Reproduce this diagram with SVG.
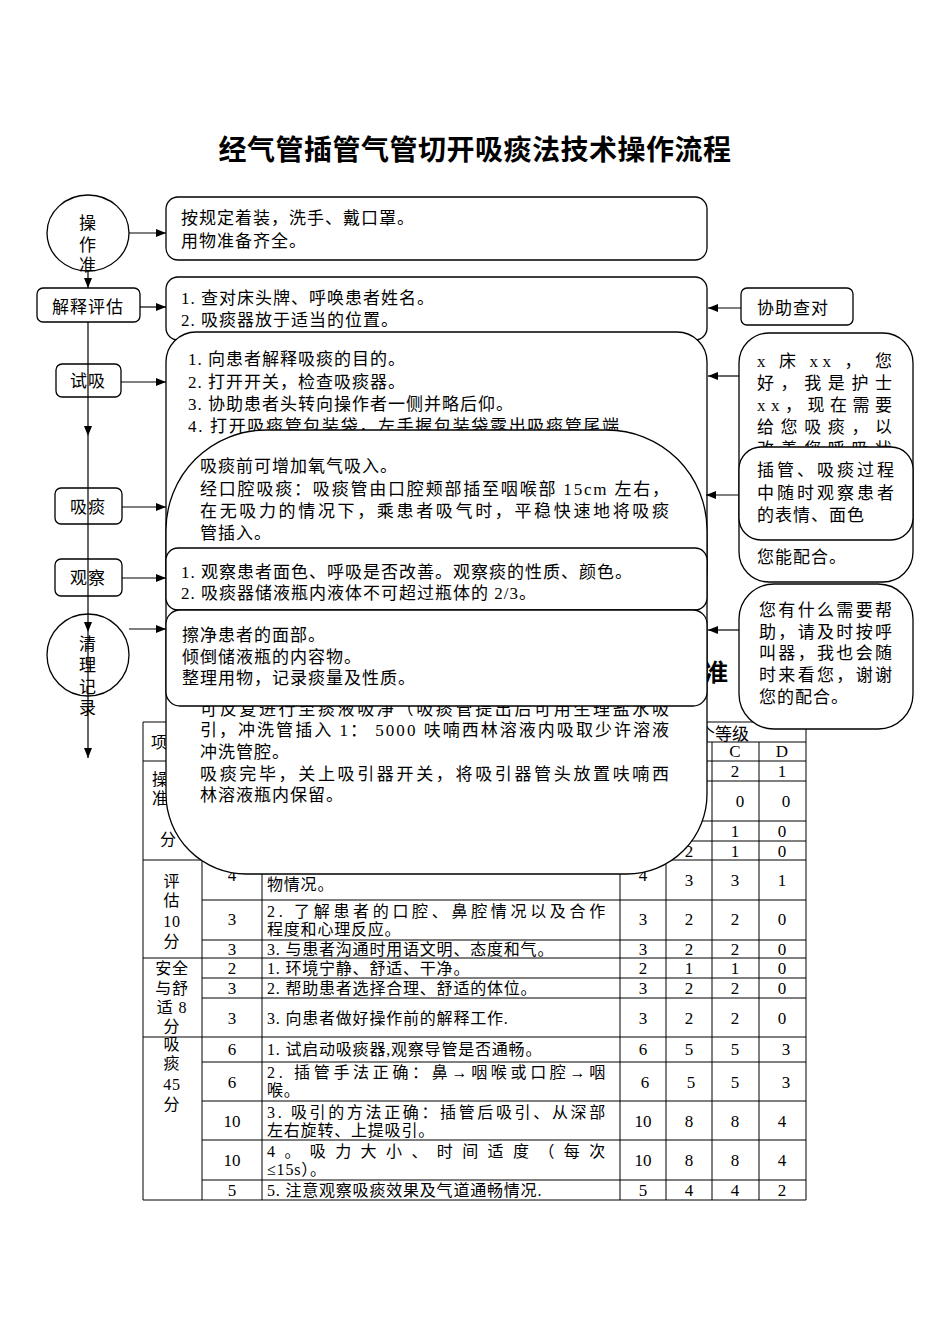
<svg xmlns="http://www.w3.org/2000/svg" width="950" height="1344" viewBox="0 0 950 1344">
<defs>
<style>
.t{font-family:"Liberation Serif","Noto Sans CJK SC",serif;font-size:17px;fill:#000;letter-spacing:1px}
.s{font-family:"Liberation Serif","Noto Sans CJK SC",serif;font-size:16px;fill:#000;letter-spacing:0.8px}
.n{font-family:"Liberation Serif","Noto Sans CJK SC",serif;font-size:17px;fill:#000;text-anchor:middle}
.c{text-anchor:middle}
.title{font-family:"Noto Sans CJK SC",sans-serif;font-size:28px;font-weight:bold;fill:#000;letter-spacing:0.5px;text-anchor:middle}
.box{fill:#fff;stroke:#000;stroke-width:1.3}
.ln{stroke:#000;stroke-width:1.2;fill:none}
.tl{stroke:#000;stroke-width:1;fill:none}
</style>
<marker id="ah" markerWidth="10" markerHeight="8" refX="10" refY="4" orient="auto" markerUnits="userSpaceOnUse">
<path d="M0,0 L10,4 L0,8 Z" fill="#000"/>
</marker>
</defs>
<rect width="950" height="1344" fill="#fff"/>
<text class="title" x="475" y="160">经气管插管气管切开吸痰法技术操作流程</text>

<g id="table">
<g class="tl">
<line x1="143" y1="722" x2="806" y2="722"/>
<line x1="620" y1="742" x2="806" y2="742"/>
<line x1="143" y1="761" x2="806" y2="761"/>
<line x1="202" y1="781" x2="806" y2="781"/>
<line x1="202" y1="821" x2="806" y2="821"/>
<line x1="202" y1="841" x2="806" y2="841"/>
<line x1="143" y1="860" x2="806" y2="860"/>
<line x1="202" y1="900" x2="806" y2="900"/>
<line x1="202" y1="940" x2="806" y2="940"/>
<line x1="143" y1="958" x2="806" y2="958"/>
<line x1="202" y1="978" x2="806" y2="978"/>
<line x1="202" y1="998" x2="806" y2="998"/>
<line x1="143" y1="1037" x2="806" y2="1037"/>
<line x1="202" y1="1062" x2="806" y2="1062"/>
<line x1="202" y1="1101" x2="806" y2="1101"/>
<line x1="202" y1="1140" x2="806" y2="1140"/>
<line x1="202" y1="1180" x2="806" y2="1180"/>
<line x1="143" y1="1200" x2="806" y2="1200"/>
<line x1="143" y1="722" x2="143" y2="1200"/>
<line x1="202" y1="722" x2="202" y2="1200"/>
<line x1="262" y1="722" x2="262" y2="1200"/>
<line x1="620" y1="722" x2="620" y2="1200"/>
<line x1="666" y1="742" x2="666" y2="1200"/>
<line x1="712" y1="742" x2="712" y2="1200"/>
<line x1="759" y1="742" x2="759" y2="1200"/>
<line x1="806" y1="722" x2="806" y2="1200"/>
</g>
<text class="s" x="151" y="748">项</text>
<text class="t" x="698" y="740" style="letter-spacing:0">个等级</text>
<text class="n" x="735" y="757">C</text><text class="n" x="782" y="757">D</text>
<text class="s" x="152" y="785">操</text>
<text class="s" x="152" y="804">准</text>
<text class="s" x="160" y="845">分</text>
<text class="n" x="735" y="777">2</text><text class="n" x="782" y="777">1</text>
<text class="n" x="740" y="807">0</text><text class="n" x="786" y="807">0</text>
<text class="n" x="735" y="837">1</text><text class="n" x="782" y="837">0</text>
<text class="n" x="689" y="857">2</text><text class="n" x="735" y="857">1</text><text class="n" x="782" y="857">0</text>

<text class="s c" x="172" y="887">评</text>
<text class="s c" x="172" y="906">估</text>
<text class="s c" x="172" y="927">10</text>
<text class="s c" x="172" y="947">分</text>
<text class="s c" x="172" y="974">安全</text>
<text class="s c" x="172" y="994">与舒</text>
<text class="s c" x="172" y="1013">适 8</text>
<text class="s c" x="172" y="1032">分</text>
<text class="s c" x="172" y="1050">吸</text>
<text class="s c" x="172" y="1069">痰</text>
<text class="s c" x="172" y="1090">45</text>
<text class="s c" x="172" y="1110">分</text>

<text class="s" x="267" y="890">物情况。</text>
<text class="s" x="267" y="917" textLength="339" lengthAdjust="spacing">2. 了解患者的口腔、鼻腔情况以及合作</text>
<text class="s" x="267" y="935">程度和心理反应。</text>
<text class="s" x="267" y="955">3. 与患者沟通时用语文明、态度和气。</text>
<text class="s" x="267" y="974">1. 环境宁静、舒适、干净。</text>
<text class="s" x="267" y="994">2. 帮助患者选择合理、舒适的体位。</text>
<text class="s" x="267" y="1024">3. 向患者做好操作前的解释工作.</text>
<text class="s" x="267" y="1055">1. 试启动吸痰器,观察导管是否通畅。</text>
<text class="s" x="267" y="1078" textLength="339" lengthAdjust="spacing">2. 插管手法正确：鼻→咽喉或口腔→咽</text>
<text class="s" x="267" y="1096">喉。</text>
<text class="s" x="267" y="1118" textLength="339" lengthAdjust="spacing">3. 吸引的方法正确：插管后吸引、从深部</text>
<text class="s" x="267" y="1136">左右旋转、上提吸引。</text>
<text class="s" x="267" y="1157" textLength="339" lengthAdjust="spacing">4。吸力大小、时间适度（每次</text>
<text class="s" x="267" y="1175">≤15s）。</text>
<text class="s" x="267" y="1196">5. 注意观察吸痰效果及气道通畅情况.</text>

<g>
<text class="n" x="232" y="881">4</text><text class="n" x="643" y="881">4</text><text class="n" x="689" y="886">3</text><text class="n" x="735" y="886">3</text><text class="n" x="782" y="886">1</text>
<text class="n" x="232" y="925">3</text><text class="n" x="643" y="925">3</text><text class="n" x="689" y="925">2</text><text class="n" x="735" y="925">2</text><text class="n" x="782" y="925">0</text>
<text class="n" x="232" y="955">3</text><text class="n" x="643" y="955">3</text><text class="n" x="689" y="955">2</text><text class="n" x="735" y="955">2</text><text class="n" x="782" y="955">0</text>
<text class="n" x="232" y="974">2</text><text class="n" x="643" y="974">2</text><text class="n" x="689" y="974">1</text><text class="n" x="735" y="974">1</text><text class="n" x="782" y="974">0</text>
<text class="n" x="232" y="994">3</text><text class="n" x="643" y="994">3</text><text class="n" x="689" y="994">2</text><text class="n" x="735" y="994">2</text><text class="n" x="782" y="994">0</text>
<text class="n" x="232" y="1024">3</text><text class="n" x="643" y="1024">3</text><text class="n" x="689" y="1024">2</text><text class="n" x="735" y="1024">2</text><text class="n" x="782" y="1024">0</text>
<text class="n" x="232" y="1055">6</text><text class="n" x="643" y="1055">6</text><text class="n" x="689" y="1055">5</text><text class="n" x="735" y="1055">5</text><text class="n" x="786" y="1055">3</text>
<text class="n" x="232" y="1088">6</text><text class="n" x="645" y="1088">6</text><text class="n" x="691" y="1088">5</text><text class="n" x="735" y="1088">5</text><text class="n" x="786" y="1088">3</text>
<text class="n" x="232" y="1127">10</text><text class="n" x="643" y="1127">10</text><text class="n" x="689" y="1127">8</text><text class="n" x="735" y="1127">8</text><text class="n" x="782" y="1127">4</text>
<text class="n" x="232" y="1166">10</text><text class="n" x="643" y="1166">10</text><text class="n" x="689" y="1166">8</text><text class="n" x="735" y="1166">8</text><text class="n" x="782" y="1166">4</text>
<text class="n" x="232" y="1196">5</text><text class="n" x="643" y="1196">5</text><text class="n" x="689" y="1196">4</text><text class="n" x="735" y="1196">4</text><text class="n" x="782" y="1196">2</text>
</g>
</g>

<text x="704" y="681" style="font-family:'Noto Sans CJK SC',sans-serif;font-size:24px;font-weight:bold">准</text>

<g id="n-prep">
<ellipse class="box" cx="88" cy="233" rx="41" ry="38"/>
<text class="t c" x="88" y="229">操</text>
<text class="t c" x="88" y="251">作</text>
<text class="t c" x="88" y="271">准</text>
</g>
<g id="n-explain">
<rect class="box" x="37" y="288" width="103" height="34" rx="6"/>
<text class="t c" x="88" y="313">解释评估</text>
</g>
<g id="n-trial">
<rect class="box" x="56" y="364" width="65" height="33" rx="6"/>
<text class="t c" x="88" y="387">试吸</text>
</g>
<g id="n-suction">
<rect class="box" x="55" y="488" width="67" height="36" rx="6"/>
<text class="t c" x="88" y="513">吸痰</text>
</g>
<g id="n-observe">
<rect class="box" x="55" y="559" width="67" height="37" rx="6"/>
<text class="t c" x="88" y="584">观察</text>
</g>
<g id="n-clean">
<ellipse class="box" cx="88" cy="655" rx="41" ry="41"/>
<text class="t c" x="88" y="650">清</text>
<text class="t c" x="88" y="671">理</text>
<text class="t c" x="88" y="693">记</text>
<text class="t c" x="88" y="714">录</text>
</g>

<g id="b-prep">
<rect class="box" x="166" y="197" width="541" height="63" rx="12"/>
<text class="t" x="181" y="224">按规定着装，洗手、戴口罩。</text>
<text class="t" x="181" y="247">用物准备齐全。</text>
</g>
<g id="b-explain">
<rect class="box" x="166" y="277" width="541" height="63" rx="12"/>
<text class="t" x="181" y="304">1. 查对床头牌、呼唤患者姓名。</text>
<text class="t" x="181" y="326">2. 吸痰器放于适当的位置。</text>
</g>
<g id="b-trial">
<rect class="box" x="166" y="332" width="541" height="270" rx="30"/>
<text class="t" x="188" y="365">1. 向患者解释吸痰的目的。</text>
<text class="t" x="188" y="388">2. 打开开关，检查吸痰器。</text>
<text class="t" x="188" y="410">3. 协助患者头转向操作者一侧并略后仰。</text>
<text class="t" x="188" y="432" textLength="432" lengthAdjust="spacing">4. 打开吸痰管包装袋，左手握包装袋露出吸痰管尾端</text>
</g>
<g id="b-suction">
<path class="box" d="M266 430 H607 A100 100 0 0 1 707 530 V794 A80 80 0 0 1 627 874 H246 A80 80 0 0 1 166 794 V530 A100 100 0 0 1 266 430 Z"/>
<text class="t" x="200" y="472">吸痰前可增加氧气吸入。</text>
<text class="t" x="200" y="495" textLength="470" lengthAdjust="spacing">经口腔吸痰：吸痰管由口腔颊部插至咽喉部 15cm 左右，</text>
<text class="t" x="200" y="517" textLength="470" lengthAdjust="spacing">在无吸力的情况下，乘患者吸气时，平稳快速地将吸痰</text>
<text class="t" x="200" y="539">管插入。</text>
<text class="t" x="200" y="715" textLength="470" lengthAdjust="spacing">可反复进行至痰液吸净（吸痰管提出后可用生理盐水吸</text>
<text class="t" x="200" y="736" textLength="470" lengthAdjust="spacing">引，冲洗管插入 1： 5000 呋喃西林溶液内吸取少许溶液</text>
<text class="t" x="200" y="758">冲洗管腔。</text>
<text class="t" x="200" y="780" textLength="470" lengthAdjust="spacing">吸痰完毕，关上吸引器开关，将吸引器管头放置呋喃西</text>
<text class="t" x="200" y="801">林溶液瓶内保留。</text>
</g>
<g id="b-observe">
<rect class="box" x="166" y="548" width="541" height="62" rx="12"/>
<text class="t" x="181" y="578">1. 观察患者面色、呼吸是否改善。观察痰的性质、颜色。</text>
<text class="t" x="181" y="599">2. 吸痰器储液瓶内液体不可超过瓶体的 2/3。</text>
</g>
<g id="b-clean">
<rect class="box" x="166" y="610" width="541" height="96" rx="14"/>
<text class="t" x="182" y="641">擦净患者的面部。</text>
<text class="t" x="182" y="663">倾倒储液瓶的内容物。</text>
<text class="t" x="182" y="684">整理用物，记录痰量及性质。</text>
</g>

<g id="r-check">
<rect class="box" x="741" y="288" width="112" height="37" rx="6"/>
<text class="t" x="757" y="314">协助查对</text>
</g>
<g id="r-greet">
<rect class="box" x="739" y="333" width="174" height="249" rx="30"/>
<text class="t" x="757" y="367" textLength="136" lengthAdjust="spacing">x 床 xx ， 您</text>
<text class="t" x="757" y="389" textLength="136" lengthAdjust="spacing">好，我是护士</text>
<text class="t" x="757" y="411" textLength="136" lengthAdjust="spacing">xx，现在需要</text>
<text class="t" x="757" y="433" textLength="136" lengthAdjust="spacing">给您吸痰，以</text>
<text class="t" x="757" y="455" textLength="136" lengthAdjust="spacing">改善您呼吸状</text>
<text class="t" x="757" y="563">您能配合。</text>
</g>
<g id="r-watch">
<rect class="box" x="739" y="447" width="174" height="93" rx="22"/>
<text class="t" x="757" y="476" textLength="138" lengthAdjust="spacing">插管、吸痰过程</text>
<text class="t" x="757" y="499" textLength="138" lengthAdjust="spacing">中随时观察患者</text>
<text class="t" x="757" y="521">的表情、面色</text>
</g>
<g id="r-help">
<rect class="box" x="739" y="584" width="174" height="145" rx="35"/>
<text class="t" x="759" y="616" textLength="134" lengthAdjust="spacing">您有什么需要帮</text>
<text class="t" x="759" y="638" textLength="134" lengthAdjust="spacing">助，请及时按呼</text>
<text class="t" x="759" y="659" textLength="134" lengthAdjust="spacing">叫器，我也会随</text>
<text class="t" x="759" y="681" textLength="134" lengthAdjust="spacing">时来看您，谢谢</text>
<text class="t" x="759" y="703">您的配合。</text>
</g>

<g id="connectors" class="ln">
<line x1="88" y1="271" x2="88" y2="288" marker-end="url(#ah)"/>
<line x1="88" y1="322" x2="88" y2="436" marker-end="url(#ah)"/>
<line x1="88" y1="436" x2="88" y2="632" marker-end="url(#ah)"/>
<line x1="88" y1="632" x2="88" y2="758" marker-end="url(#ah)"/>
<line x1="129" y1="233" x2="166" y2="233" marker-end="url(#ah)"/>
<line x1="140" y1="307" x2="166" y2="307" marker-end="url(#ah)"/>
<line x1="121" y1="382" x2="166" y2="382" marker-end="url(#ah)"/>
<line x1="122" y1="507" x2="166" y2="507" marker-end="url(#ah)"/>
<line x1="122" y1="578" x2="166" y2="578" marker-end="url(#ah)"/>
<line x1="129" y1="629" x2="166" y2="629" marker-end="url(#ah)"/>
<line x1="741" y1="308" x2="708" y2="308" marker-end="url(#ah)"/>
<line x1="739" y1="376" x2="708" y2="376" marker-end="url(#ah)"/>
<line x1="739" y1="495" x2="706" y2="495" marker-end="url(#ah)"/>
<line x1="739" y1="630" x2="708" y2="630" marker-end="url(#ah)"/>
</g>
</svg>
